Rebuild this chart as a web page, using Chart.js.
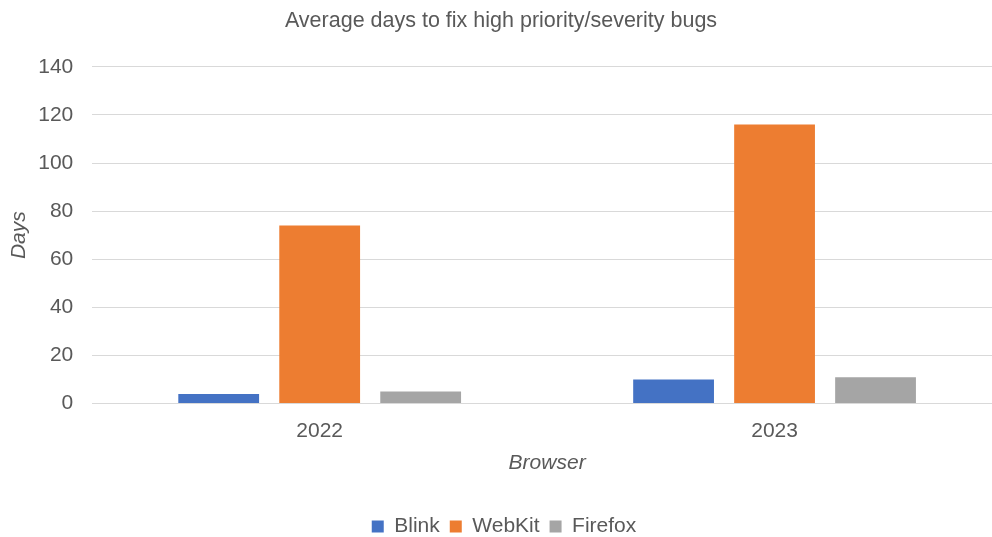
<!DOCTYPE html>
<html>
<head>
<meta charset="utf-8">
<script src="https://cdn.jsdelivr.net/npm/chart.js@4"></script>
<style>
  html, body { margin: 0; padding: 0; background: #fff; overflow: hidden; }
  /* the plot runs past the right edge in the original, so the canvas is a bit wider than the window */
  #wrap { width: 1002px; height: 537px; }
</style>
</head>
<body>
<div id="wrap"><canvas id="chart"></canvas></div>
<script>
// ========== DATA ==========
const years = ['2022', '2023'];
const blink = [4, 10];
const webkit = [74, 116];
const firefox = [5, 11];

const grey = '#595959';
const font = 'Arial, "Liberation Sans", sans-serif';

// legend sits slightly right of centre in the original
const nudge = {
    id: 'nudge',
    afterLayout(chart) {
        chart.legend.left += 3;
        chart.legend.right += 3;
    }
};

new Chart(document.getElementById('chart'), {
    type: 'bar',
    data: {
        labels: years,
        datasets: [
            { label: 'Blink', data: blink, backgroundColor: '#4472c4' },
            { label: 'WebKit', data: webkit, backgroundColor: '#ed7d31' },
            { label: 'Firefox', data: firefox, backgroundColor: '#a5a5a5' }
        ]
    },
    plugins: [nudge],
    options: {
        responsive: true,
        maintainAspectRatio: false,
        animation: false,
        datasets: { bar: { categoryPercentage: 0.666, barPercentage: 0.8 } },
        layout: { padding: { left: 0, right: 0, top: 0, bottom: -10 } },
        plugins: {
            title: {
                display: true,
                text: 'Average days to fix high priority/severity bugs',
                color: grey,
                font: { family: font, size: 21.5, weight: 'normal' },
                padding: { top: 8, bottom: 33 }
            },
            legend: {
                position: 'bottom',
                labels: {
                    color: grey,
                    font: { family: font, size: 21 },
                    boxWidth: 12,
                    boxHeight: 12,
                    padding: 10
                }
            },
            tooltip: { enabled: false }
        },
        scales: {
            x: {
                grid: { display: false },
                border: { color: '#d9d9d9', width: 1 },
                ticks: { color: grey, font: { family: font, size: 21 }, padding: 7 },
                title: {
                    display: true,
                    text: 'Browser',
                    color: grey,
                    font: { family: font, size: 21, style: 'italic' },
                    padding: { top: 0, bottom: 30 }
                }
            },
            y: {
                min: 0,
                max: 140,
                ticks: { stepSize: 20, color: grey, font: { family: font, size: 21 }, padding: 19 },
                grid: { color: '#d9d9d9', drawTicks: false },
                border: { display: false },
                title: {
                    display: true,
                    text: 'Days',
                    color: grey,
                    font: { family: font, size: 21, style: 'italic' },
                    padding: { top: 7, bottom: -13 }
                }
            }
        }
    }
});
</script>
</body>
</html>
